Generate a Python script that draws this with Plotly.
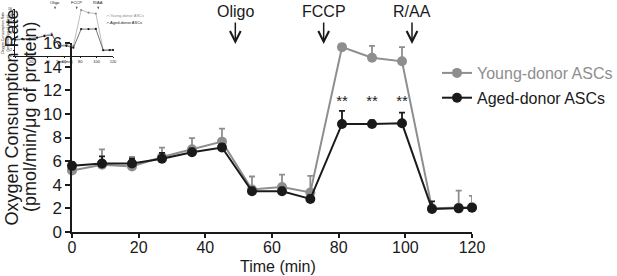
import plotly.graph_objects as go

W, H = 617, 276
FONT = "Arial, Liberation Sans, sans-serif"

time_min = [0, 9, 18, 27, 36, 45, 54, 63, 71.5, 81, 90, 99, 108, 116, 120]
young = [5.2, 5.7, 5.55, 6.35, 7.0, 7.65, 3.6, 3.8, 3.35, 15.65, 14.75, 14.45, 2.0, 2.05, 2.1]
aged = [5.6, 5.8, 5.8, 6.2, 6.75, 7.15, 3.45, 3.45, 2.8, 9.15, 9.15, 9.2, 1.95, 2.0, 2.05]
young_err = [0.3, 1.3, 0.8, 0.8, 0.95, 1.1, 1.1, 1.05, 1.4, 0.7, 1.0, 1.2, 0.3, 1.45, 0.95]
aged_err = [0.3, 0.6, 0.4, 0.5, 0.3, 0.3, 0.3, 0.3, 0.3, 1.1, 0.3, 0.9, 0.65, 0.3, 0.3]
star_times = [81, 90, 99]
star_y = [10.95, 10.95, 10.95]
inject_times = [49, 75.5, 102]
inject_labels = ["Oligo", "FCCP", "R/AA"]
x_ticks = [0, 20, 40, 60, 80, 100, 120]
y_ticks = [0, 2, 4, 6, 8, 10, 12, 14, 16]

GRAY = "#8e8e8e"
BLACK = "#1a1a1a"

def px_x(p):
    return p / W

def px_y(p):
    return 1 - p / H

fig = go.Figure()

for name, vals, err, col, lg in [
    ("<span style='color:#8e8e8e'>Young-donor ASCs</span>", young, young_err, GRAY, "a"),
    ("Aged-donor ASCs", aged, aged_err, BLACK, "b"),
]:
    fig.add_trace(go.Scatter(
        x=time_min, y=vals, name=name, mode="lines+markers", legendgroup=lg,
        line=dict(color=col, width=2), marker=dict(color=col, size=10),
        error_y=dict(type="data", symmetric=False, array=err, arrayminus=[0] * len(err),
                     color=col, thickness=1.8, width=3),
        cliponaxis=False,
    ))

fig.add_trace(go.Scatter(
    x=star_times, y=star_y, mode="text", text=["**"] * len(star_times),
    textfont=dict(family=FONT, size=15, color=BLACK), showlegend=False, cliponaxis=False,
))

# inset thumbnail
for vals, col in [(young, GRAY), (aged, BLACK)]:
    fig.add_trace(go.Scatter(
        x=time_min, y=vals, mode="lines+markers", xaxis="x2", yaxis="y2", showlegend=False,
        line=dict(color=col, width=0.6), marker=dict(color=col, size=2.2), cliponaxis=False,
    ))

C = dict(xanchor="center", yanchor="middle")
annotations = []
for t, lab in zip(inject_times, inject_labels):
    annotations.append(dict(x=t, y=px_y(12), xref="x", yref="paper", text=lab, showarrow=False,
                            font=dict(family=FONT, size=16, color=BLACK), **C))
    annotations.append(dict(x=t, y=px_y(44), xref="x", yref="paper", text="", showarrow=True,
                            ax=0, ay=-23, arrowhead=5, arrowsize=1.4, arrowwidth=1.5,
                            arrowcolor=BLACK))
    # inset
    annotations.append(dict(x=t, y=px_y(2.5), xref="x2", yref="paper", text=lab, showarrow=False,
                            font=dict(family=FONT, size=4, color=BLACK), **C))
    annotations.append(dict(x=t, y=px_y(9), xref="x2", yref="paper", text="", showarrow=True,
                            ax=0, ay=-4, arrowhead=5, arrowsize=0.6, arrowwidth=0.6,
                            arrowcolor=BLACK))

annotations += [
    dict(x=px_x(11.5), y=px_y(118), xref="paper", yref="paper", text="Oxygen Consumption Rate",
         textangle=-90, showarrow=False, font=dict(family=FONT, size=18, color=BLACK), **C),
    dict(x=px_x(30), y=px_y(117), xref="paper", yref="paper", text="(pmol/min/μg of protein)",
         textangle=-90, showarrow=False, font=dict(family=FONT, size=18, color=BLACK), **C),
    dict(x=px_x(278), y=px_y(266), xref="paper", yref="paper", text="Time (min)",
         showarrow=False, font=dict(family=FONT, size=16, color=BLACK), **C),
    dict(x=px_x(104), y=px_y(15), xref="paper", yref="paper", xanchor="left", yanchor="middle",
         text="<span style='color:#8e8e8e'>-•-Young-donor ASCs</span>",
         showarrow=False, font=dict(family=FONT, size=4)),
    dict(x=px_x(104), y=px_y(22.5), xref="paper", yref="paper", xanchor="left", yanchor="middle",
         text="-•-Aged-donor ASCs", showarrow=False, font=dict(family=FONT, size=4, color=BLACK)),
    dict(x=px_x(6), y=px_y(33), xref="paper", yref="paper", textangle=-90,
         text="Oxygen Consumption Rate<br>(pmol/min/μg of protein)", showarrow=False,
         font=dict(family=FONT, size=3.5, color=BLACK), **C),
    dict(x=px_x(64), y=px_y(62), xref="paper", yref="paper",
         text="Time (min)", showarrow=False, font=dict(family=FONT, size=3.5, color=BLACK), **C),
]

fig.update_layout(
    width=W, height=H, margin=dict(l=0, r=0, t=0, b=0, autoexpand=False),
    paper_bgcolor="white", plot_bgcolor="rgba(0,0,0,0)",
    font=dict(family=FONT, color=BLACK),
    xaxis=dict(domain=[px_x(72), px_x(472)], range=[0, 120], tickvals=x_ticks,
               showgrid=False, zeroline=False, showline=True, linecolor=BLACK, linewidth=1.5,
               ticks="outside", ticklen=4, tickwidth=1.5, tickcolor=BLACK,
               ticklabelstandoff=-4,
               tickfont=dict(family=FONT, size=16, color=BLACK), anchor="y"),
    yaxis=dict(domain=[px_y(232), px_y(43)], range=[0, 16], tickvals=y_ticks,
               showgrid=False, zeroline=False, showline=True, linecolor=BLACK, linewidth=1.5,
               ticks="outside", ticklen=5, tickwidth=1.5, tickcolor=BLACK,
               tickfont=dict(family=FONT, size=17, color=BLACK), anchor="x"),
    xaxis2=dict(domain=[px_x(15), px_x(113)], range=[0, 120], tickvals=x_ticks,
                showgrid=False, zeroline=False, showline=True, linecolor=BLACK, linewidth=0.6,
                ticks="outside", ticklen=1.5, tickwidth=0.5, tickcolor=BLACK,
                tickfont=dict(family=FONT, size=4, color=BLACK), anchor="y2"),
    yaxis2=dict(domain=[px_y(56), px_y(9)], range=[0, 16], tickvals=y_ticks,
                showgrid=False, zeroline=False, showline=True, linecolor=BLACK, linewidth=0.6,
                ticks="outside", ticklen=1.5, tickwidth=0.5, tickcolor=BLACK,
                tickfont=dict(family=FONT, size=3.5, color=BLACK), anchor="x2"),
    legend=dict(x=px_x(437), y=px_y(56), xanchor="left", yanchor="top",
                font=dict(family=FONT, size=16, color=BLACK), bgcolor="rgba(0,0,0,0)",
                traceorder="grouped", tracegroupgap=1, itemwidth=30),
    annotations=annotations,
    showlegend=True,
)

fig.write_html("out.html", config={"displayModeBar": False},
               post_script="document.body.style.margin='0';document.body.style.overflow='hidden';")
